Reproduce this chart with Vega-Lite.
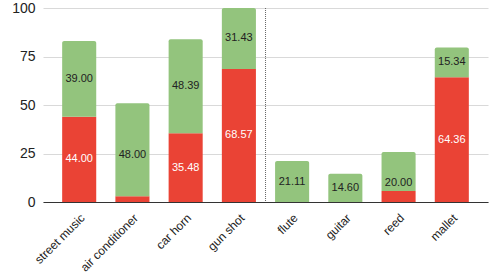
{
  "$schema": "https://vega.github.io/schema/vega-lite/v6.json",
  "width": 445,
  "height": 194,
  "autosize": {"type": "none"},
  "padding": {"left": 43, "top": 8, "right": 6, "bottom": 70},
  "background": "white",
  "config": {
    "view": {"stroke": null},
    "font": "Arial, Liberation Sans, sans-serif"
  },
  "datasets": {
    "main": [
      {"category": "street music", "series": "A", "ord": 0, "value": 44.00},
      {"category": "street music", "series": "B", "ord": 1, "value": 39.00},
      {"category": "air conditioner", "series": "A", "ord": 0, "value": 2.9},
      {"category": "air conditioner", "series": "B", "ord": 1, "value": 48.00},
      {"category": "car horn", "series": "A", "ord": 0, "value": 35.48},
      {"category": "car horn", "series": "B", "ord": 1, "value": 48.39},
      {"category": "gun shot", "series": "A", "ord": 0, "value": 68.57},
      {"category": "gun shot", "series": "B", "ord": 1, "value": 31.43},
      {"category": "flute", "series": "A", "ord": 0, "value": 0},
      {"category": "flute", "series": "B", "ord": 1, "value": 21.11},
      {"category": "guitar", "series": "A", "ord": 0, "value": 0},
      {"category": "guitar", "series": "B", "ord": 1, "value": 14.60},
      {"category": "reed", "series": "A", "ord": 0, "value": 5.71},
      {"category": "reed", "series": "B", "ord": 1, "value": 20.00},
      {"category": "mallet", "series": "A", "ord": 0, "value": 64.36},
      {"category": "mallet", "series": "B", "ord": 1, "value": 15.34}
    ],
    "divider": [{"category": "flute"}]
  },
  "encoding": {
    "x": {
      "field": "category",
      "type": "nominal",
      "scale": {
        "domain": ["street music", "air conditioner", "car horn", "gun shot", "flute", "guitar", "reed", "mallet"],
        "paddingInner": 0.36,
        "paddingOuter": 0.36
      },
      "axis": {
        "title": null,
        "labelAngle": -45,
        "labelFontSize": 12,
        "labelColor": "#222",
        "domainColor": "#333",
        "domainWidth": 1,
        "ticks": false,
        "labelPadding": 10
      }
    }
  },
  "layer": [
    {
      "data": {"name": "main"},
      "transform": [
        {"stack": "value", "groupby": ["category"], "sort": [{"field": "ord"}], "as": ["y0", "y1"]},
        {"filter": "datum.series === 'A'"}
      ],
      "mark": {"type": "bar", "color": "#EA4335"},
      "encoding": {
        "y": {
          "field": "y0",
          "type": "quantitative",
          "scale": {"domain": [0, 100]},
          "axis": {
            "title": null,
            "values": [0, 25, 50, 75, 100],
            "domain": false,
            "ticks": false,
            "labelFontSize": 14,
            "labelColor": "#222",
            "labelPadding": 8,
            "gridColor": "#d9d9d9",
            "gridWidth": 1
          }
        },
        "y2": {"field": "y1"}
      }
    },
    {
      "data": {"name": "main"},
      "transform": [
        {"stack": "value", "groupby": ["category"], "sort": [{"field": "ord"}], "as": ["y0", "y1"]},
        {"filter": "datum.series === 'B'"}
      ],
      "mark": {"type": "bar", "color": "#93C47D", "cornerRadiusTopLeft": 2, "cornerRadiusTopRight": 2},
      "encoding": {
        "y": {"field": "y0", "type": "quantitative"},
        "y2": {"field": "y1"}
      }
    },
    {
      "data": {"name": "main"},
      "transform": [
        {"filter": "datum.value > 8"}
      ],
      "mark": {"type": "text", "fontSize": 11, "baseline": "middle"},
      "encoding": {
        "y": {"field": "value", "type": "quantitative", "stack": "zero", "bandPosition": 0.5},
        "order": {"field": "ord"},
        "text": {"field": "value", "type": "quantitative", "format": ".2f"},
        "color": {
          "condition": {"test": "datum.series === 'A'", "value": "white"},
          "value": "#222"
        }
      }
    },
    {
      "data": {"name": "divider"},
      "mark": {"type": "rule", "color": "#666", "strokeDash": [1, 1], "strokeWidth": 1},
      "encoding": {
        "x": {"field": "category", "type": "nominal", "bandPosition": -0.28}
      }
    }
  ]
}
